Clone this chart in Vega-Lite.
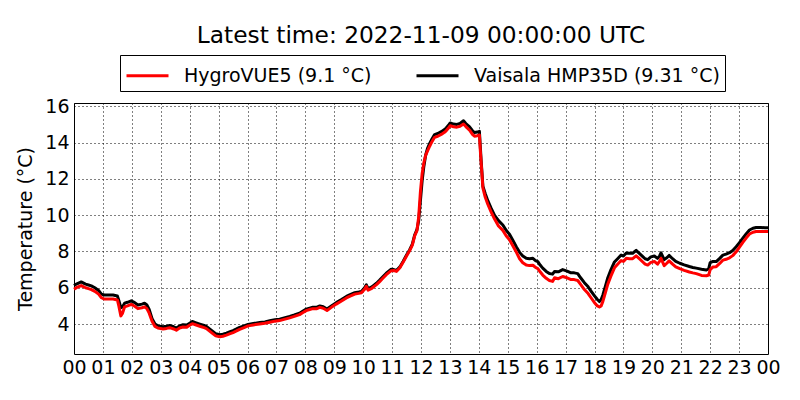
{
  "$schema": "https://vega.github.io/schema/vega-lite/v6.json",
  "width": 694,
  "height": 251,
  "autosize": "none",
  "padding": {"left": 74, "top": 103, "right": 32, "bottom": 46},
  "background": "white",
  "config": {
    "font": "DejaVu Sans",
    "view": {"stroke": "black", "strokeWidth": 1}
  },
  "title": {
    "text": "Latest time: 2022-11-09 00:00:00 UTC",
    "fontSize": 23.3,
    "fontWeight": "normal",
    "color": "black",
    "anchor": "middle",
    "frame": "group",
    "offset": 6
  },
  "data": {
    "values": [
      {"hour": 0.0, "sensor": "Vaisala HMP35D", "temp": 6.12},
      {"hour": 0.1, "sensor": "Vaisala HMP35D", "temp": 6.22},
      {"hour": 0.25, "sensor": "Vaisala HMP35D", "temp": 6.32},
      {"hour": 0.4, "sensor": "Vaisala HMP35D", "temp": 6.2},
      {"hour": 0.5, "sensor": "Vaisala HMP35D", "temp": 6.15},
      {"hour": 0.6, "sensor": "Vaisala HMP35D", "temp": 6.1},
      {"hour": 0.72, "sensor": "Vaisala HMP35D", "temp": 6.0},
      {"hour": 0.85, "sensor": "Vaisala HMP35D", "temp": 5.85},
      {"hour": 0.95, "sensor": "Vaisala HMP35D", "temp": 5.65},
      {"hour": 1.05, "sensor": "Vaisala HMP35D", "temp": 5.6},
      {"hour": 1.2, "sensor": "Vaisala HMP35D", "temp": 5.6},
      {"hour": 1.35, "sensor": "Vaisala HMP35D", "temp": 5.6},
      {"hour": 1.5, "sensor": "Vaisala HMP35D", "temp": 5.55},
      {"hour": 1.55, "sensor": "Vaisala HMP35D", "temp": 5.3},
      {"hour": 1.62, "sensor": "Vaisala HMP35D", "temp": 4.9},
      {"hour": 1.68, "sensor": "Vaisala HMP35D", "temp": 4.95},
      {"hour": 1.75, "sensor": "Vaisala HMP35D", "temp": 5.15},
      {"hour": 1.85, "sensor": "Vaisala HMP35D", "temp": 5.2},
      {"hour": 1.98, "sensor": "Vaisala HMP35D", "temp": 5.28},
      {"hour": 2.1, "sensor": "Vaisala HMP35D", "temp": 5.18},
      {"hour": 2.21, "sensor": "Vaisala HMP35D", "temp": 5.05},
      {"hour": 2.35, "sensor": "Vaisala HMP35D", "temp": 5.1},
      {"hour": 2.44, "sensor": "Vaisala HMP35D", "temp": 5.15},
      {"hour": 2.52, "sensor": "Vaisala HMP35D", "temp": 5.05},
      {"hour": 2.6, "sensor": "Vaisala HMP35D", "temp": 4.8},
      {"hour": 2.7, "sensor": "Vaisala HMP35D", "temp": 4.3},
      {"hour": 2.8, "sensor": "Vaisala HMP35D", "temp": 4.0},
      {"hour": 2.9, "sensor": "Vaisala HMP35D", "temp": 3.9},
      {"hour": 3.08, "sensor": "Vaisala HMP35D", "temp": 3.85},
      {"hour": 3.2, "sensor": "Vaisala HMP35D", "temp": 3.88},
      {"hour": 3.31, "sensor": "Vaisala HMP35D", "temp": 3.92},
      {"hour": 3.45, "sensor": "Vaisala HMP35D", "temp": 3.85},
      {"hour": 3.54, "sensor": "Vaisala HMP35D", "temp": 3.78},
      {"hour": 3.65, "sensor": "Vaisala HMP35D", "temp": 3.9},
      {"hour": 3.77, "sensor": "Vaisala HMP35D", "temp": 3.96},
      {"hour": 3.9, "sensor": "Vaisala HMP35D", "temp": 3.95},
      {"hour": 4.0, "sensor": "Vaisala HMP35D", "temp": 4.05},
      {"hour": 4.09, "sensor": "Vaisala HMP35D", "temp": 4.14},
      {"hour": 4.2, "sensor": "Vaisala HMP35D", "temp": 4.08},
      {"hour": 4.35, "sensor": "Vaisala HMP35D", "temp": 4.0},
      {"hour": 4.5, "sensor": "Vaisala HMP35D", "temp": 3.92},
      {"hour": 4.58, "sensor": "Vaisala HMP35D", "temp": 3.87},
      {"hour": 4.7, "sensor": "Vaisala HMP35D", "temp": 3.72},
      {"hour": 4.81, "sensor": "Vaisala HMP35D", "temp": 3.58},
      {"hour": 4.9, "sensor": "Vaisala HMP35D", "temp": 3.47},
      {"hour": 5.04, "sensor": "Vaisala HMP35D", "temp": 3.41},
      {"hour": 5.15, "sensor": "Vaisala HMP35D", "temp": 3.44},
      {"hour": 5.27, "sensor": "Vaisala HMP35D", "temp": 3.5},
      {"hour": 5.4, "sensor": "Vaisala HMP35D", "temp": 3.58},
      {"hour": 5.5, "sensor": "Vaisala HMP35D", "temp": 3.64},
      {"hour": 5.62, "sensor": "Vaisala HMP35D", "temp": 3.73},
      {"hour": 5.73, "sensor": "Vaisala HMP35D", "temp": 3.82},
      {"hour": 5.88, "sensor": "Vaisala HMP35D", "temp": 3.9},
      {"hour": 6.02, "sensor": "Vaisala HMP35D", "temp": 3.98},
      {"hour": 6.2, "sensor": "Vaisala HMP35D", "temp": 4.03},
      {"hour": 6.42, "sensor": "Vaisala HMP35D", "temp": 4.08},
      {"hour": 6.6, "sensor": "Vaisala HMP35D", "temp": 4.12},
      {"hour": 6.77, "sensor": "Vaisala HMP35D", "temp": 4.18},
      {"hour": 6.95, "sensor": "Vaisala HMP35D", "temp": 4.24},
      {"hour": 7.11, "sensor": "Vaisala HMP35D", "temp": 4.27},
      {"hour": 7.3, "sensor": "Vaisala HMP35D", "temp": 4.35},
      {"hour": 7.46, "sensor": "Vaisala HMP35D", "temp": 4.42},
      {"hour": 7.62, "sensor": "Vaisala HMP35D", "temp": 4.5},
      {"hour": 7.8, "sensor": "Vaisala HMP35D", "temp": 4.6},
      {"hour": 7.92, "sensor": "Vaisala HMP35D", "temp": 4.72},
      {"hour": 8.03, "sensor": "Vaisala HMP35D", "temp": 4.82},
      {"hour": 8.15, "sensor": "Vaisala HMP35D", "temp": 4.88},
      {"hour": 8.26, "sensor": "Vaisala HMP35D", "temp": 4.93},
      {"hour": 8.38, "sensor": "Vaisala HMP35D", "temp": 4.92},
      {"hour": 8.5, "sensor": "Vaisala HMP35D", "temp": 5.0},
      {"hour": 8.62, "sensor": "Vaisala HMP35D", "temp": 4.95},
      {"hour": 8.75, "sensor": "Vaisala HMP35D", "temp": 4.83},
      {"hour": 8.9, "sensor": "Vaisala HMP35D", "temp": 5.0},
      {"hour": 9.07, "sensor": "Vaisala HMP35D", "temp": 5.18},
      {"hour": 9.25, "sensor": "Vaisala HMP35D", "temp": 5.35},
      {"hour": 9.42, "sensor": "Vaisala HMP35D", "temp": 5.52},
      {"hour": 9.55, "sensor": "Vaisala HMP35D", "temp": 5.62},
      {"hour": 9.71, "sensor": "Vaisala HMP35D", "temp": 5.73},
      {"hour": 9.85, "sensor": "Vaisala HMP35D", "temp": 5.77},
      {"hour": 9.94, "sensor": "Vaisala HMP35D", "temp": 5.8},
      {"hour": 10.05, "sensor": "Vaisala HMP35D", "temp": 6.0},
      {"hour": 10.11, "sensor": "Vaisala HMP35D", "temp": 6.16},
      {"hour": 10.17, "sensor": "Vaisala HMP35D", "temp": 5.95},
      {"hour": 10.3, "sensor": "Vaisala HMP35D", "temp": 6.05},
      {"hour": 10.46, "sensor": "Vaisala HMP35D", "temp": 6.25},
      {"hour": 10.57, "sensor": "Vaisala HMP35D", "temp": 6.42},
      {"hour": 10.68, "sensor": "Vaisala HMP35D", "temp": 6.6},
      {"hour": 10.8, "sensor": "Vaisala HMP35D", "temp": 6.8},
      {"hour": 10.97, "sensor": "Vaisala HMP35D", "temp": 7.02},
      {"hour": 11.06, "sensor": "Vaisala HMP35D", "temp": 7.0},
      {"hour": 11.15, "sensor": "Vaisala HMP35D", "temp": 6.95},
      {"hour": 11.27, "sensor": "Vaisala HMP35D", "temp": 7.15},
      {"hour": 11.38, "sensor": "Vaisala HMP35D", "temp": 7.45},
      {"hour": 11.5, "sensor": "Vaisala HMP35D", "temp": 7.8},
      {"hour": 11.61, "sensor": "Vaisala HMP35D", "temp": 8.1},
      {"hour": 11.7, "sensor": "Vaisala HMP35D", "temp": 8.4},
      {"hour": 11.78, "sensor": "Vaisala HMP35D", "temp": 8.9},
      {"hour": 11.86, "sensor": "Vaisala HMP35D", "temp": 9.2},
      {"hour": 11.92, "sensor": "Vaisala HMP35D", "temp": 9.7},
      {"hour": 11.98, "sensor": "Vaisala HMP35D", "temp": 10.8},
      {"hour": 12.04, "sensor": "Vaisala HMP35D", "temp": 11.9},
      {"hour": 12.1, "sensor": "Vaisala HMP35D", "temp": 12.7},
      {"hour": 12.16, "sensor": "Vaisala HMP35D", "temp": 13.3},
      {"hour": 12.23, "sensor": "Vaisala HMP35D", "temp": 13.7},
      {"hour": 12.3, "sensor": "Vaisala HMP35D", "temp": 13.95},
      {"hour": 12.38, "sensor": "Vaisala HMP35D", "temp": 14.2},
      {"hour": 12.47, "sensor": "Vaisala HMP35D", "temp": 14.44},
      {"hour": 12.58, "sensor": "Vaisala HMP35D", "temp": 14.5},
      {"hour": 12.7, "sensor": "Vaisala HMP35D", "temp": 14.6},
      {"hour": 12.8, "sensor": "Vaisala HMP35D", "temp": 14.7},
      {"hour": 12.87, "sensor": "Vaisala HMP35D", "temp": 14.8},
      {"hour": 12.95, "sensor": "Vaisala HMP35D", "temp": 14.95},
      {"hour": 13.01, "sensor": "Vaisala HMP35D", "temp": 15.08},
      {"hour": 13.12, "sensor": "Vaisala HMP35D", "temp": 15.02},
      {"hour": 13.24, "sensor": "Vaisala HMP35D", "temp": 15.0},
      {"hour": 13.35, "sensor": "Vaisala HMP35D", "temp": 15.05},
      {"hour": 13.47, "sensor": "Vaisala HMP35D", "temp": 15.2},
      {"hour": 13.55, "sensor": "Vaisala HMP35D", "temp": 15.05},
      {"hour": 13.68, "sensor": "Vaisala HMP35D", "temp": 14.86},
      {"hour": 13.78, "sensor": "Vaisala HMP35D", "temp": 14.65},
      {"hour": 13.85, "sensor": "Vaisala HMP35D", "temp": 14.55},
      {"hour": 13.95, "sensor": "Vaisala HMP35D", "temp": 14.58},
      {"hour": 14.02, "sensor": "Vaisala HMP35D", "temp": 14.62},
      {"hour": 14.05, "sensor": "Vaisala HMP35D", "temp": 13.8},
      {"hour": 14.08, "sensor": "Vaisala HMP35D", "temp": 13.0},
      {"hour": 14.14, "sensor": "Vaisala HMP35D", "temp": 11.6},
      {"hour": 14.22, "sensor": "Vaisala HMP35D", "temp": 11.2},
      {"hour": 14.31, "sensor": "Vaisala HMP35D", "temp": 10.8},
      {"hour": 14.42, "sensor": "Vaisala HMP35D", "temp": 10.4},
      {"hour": 14.54, "sensor": "Vaisala HMP35D", "temp": 10.0},
      {"hour": 14.68, "sensor": "Vaisala HMP35D", "temp": 9.7},
      {"hour": 14.83, "sensor": "Vaisala HMP35D", "temp": 9.46},
      {"hour": 14.95, "sensor": "Vaisala HMP35D", "temp": 9.15},
      {"hour": 15.06, "sensor": "Vaisala HMP35D", "temp": 8.95},
      {"hour": 15.18, "sensor": "Vaisala HMP35D", "temp": 8.6},
      {"hour": 15.3, "sensor": "Vaisala HMP35D", "temp": 8.25},
      {"hour": 15.41, "sensor": "Vaisala HMP35D", "temp": 7.95},
      {"hour": 15.52, "sensor": "Vaisala HMP35D", "temp": 7.75},
      {"hour": 15.64, "sensor": "Vaisala HMP35D", "temp": 7.62},
      {"hour": 15.75, "sensor": "Vaisala HMP35D", "temp": 7.6},
      {"hour": 15.87, "sensor": "Vaisala HMP35D", "temp": 7.62},
      {"hour": 15.96, "sensor": "Vaisala HMP35D", "temp": 7.5},
      {"hour": 16.04, "sensor": "Vaisala HMP35D", "temp": 7.44},
      {"hour": 16.12, "sensor": "Vaisala HMP35D", "temp": 7.25},
      {"hour": 16.21, "sensor": "Vaisala HMP35D", "temp": 7.08},
      {"hour": 16.33, "sensor": "Vaisala HMP35D", "temp": 6.9},
      {"hour": 16.44, "sensor": "Vaisala HMP35D", "temp": 6.78},
      {"hour": 16.55, "sensor": "Vaisala HMP35D", "temp": 6.75},
      {"hour": 16.62, "sensor": "Vaisala HMP35D", "temp": 6.9},
      {"hour": 16.75, "sensor": "Vaisala HMP35D", "temp": 6.88},
      {"hour": 16.9, "sensor": "Vaisala HMP35D", "temp": 7.0},
      {"hour": 17.05, "sensor": "Vaisala HMP35D", "temp": 6.92},
      {"hour": 17.19, "sensor": "Vaisala HMP35D", "temp": 6.82},
      {"hour": 17.3, "sensor": "Vaisala HMP35D", "temp": 6.82},
      {"hour": 17.42, "sensor": "Vaisala HMP35D", "temp": 6.78},
      {"hour": 17.52, "sensor": "Vaisala HMP35D", "temp": 6.55},
      {"hour": 17.65, "sensor": "Vaisala HMP35D", "temp": 6.28},
      {"hour": 17.78, "sensor": "Vaisala HMP35D", "temp": 6.05},
      {"hour": 17.88, "sensor": "Vaisala HMP35D", "temp": 5.82},
      {"hour": 18.0, "sensor": "Vaisala HMP35D", "temp": 5.55},
      {"hour": 18.1, "sensor": "Vaisala HMP35D", "temp": 5.35},
      {"hour": 18.17, "sensor": "Vaisala HMP35D", "temp": 5.24},
      {"hour": 18.23, "sensor": "Vaisala HMP35D", "temp": 5.35},
      {"hour": 18.29, "sensor": "Vaisala HMP35D", "temp": 5.6},
      {"hour": 18.38, "sensor": "Vaisala HMP35D", "temp": 6.1},
      {"hour": 18.46, "sensor": "Vaisala HMP35D", "temp": 6.55},
      {"hour": 18.57, "sensor": "Vaisala HMP35D", "temp": 7.0},
      {"hour": 18.69, "sensor": "Vaisala HMP35D", "temp": 7.42},
      {"hour": 18.8, "sensor": "Vaisala HMP35D", "temp": 7.6},
      {"hour": 18.92, "sensor": "Vaisala HMP35D", "temp": 7.8},
      {"hour": 19.0, "sensor": "Vaisala HMP35D", "temp": 7.75},
      {"hour": 19.1, "sensor": "Vaisala HMP35D", "temp": 7.92},
      {"hour": 19.21, "sensor": "Vaisala HMP35D", "temp": 7.9},
      {"hour": 19.32, "sensor": "Vaisala HMP35D", "temp": 7.9},
      {"hour": 19.44, "sensor": "Vaisala HMP35D", "temp": 8.06},
      {"hour": 19.55, "sensor": "Vaisala HMP35D", "temp": 7.9},
      {"hour": 19.67, "sensor": "Vaisala HMP35D", "temp": 7.72},
      {"hour": 19.75, "sensor": "Vaisala HMP35D", "temp": 7.6},
      {"hour": 19.84, "sensor": "Vaisala HMP35D", "temp": 7.55},
      {"hour": 19.95, "sensor": "Vaisala HMP35D", "temp": 7.7},
      {"hour": 20.07, "sensor": "Vaisala HMP35D", "temp": 7.75},
      {"hour": 20.18, "sensor": "Vaisala HMP35D", "temp": 7.62},
      {"hour": 20.25, "sensor": "Vaisala HMP35D", "temp": 7.75},
      {"hour": 20.3, "sensor": "Vaisala HMP35D", "temp": 7.92},
      {"hour": 20.41, "sensor": "Vaisala HMP35D", "temp": 7.55},
      {"hour": 20.5, "sensor": "Vaisala HMP35D", "temp": 7.65},
      {"hour": 20.58, "sensor": "Vaisala HMP35D", "temp": 7.78},
      {"hour": 20.7, "sensor": "Vaisala HMP35D", "temp": 7.6},
      {"hour": 20.81, "sensor": "Vaisala HMP35D", "temp": 7.45},
      {"hour": 20.95, "sensor": "Vaisala HMP35D", "temp": 7.35},
      {"hour": 21.1, "sensor": "Vaisala HMP35D", "temp": 7.26},
      {"hour": 21.28, "sensor": "Vaisala HMP35D", "temp": 7.17},
      {"hour": 21.4, "sensor": "Vaisala HMP35D", "temp": 7.12},
      {"hour": 21.52, "sensor": "Vaisala HMP35D", "temp": 7.08},
      {"hour": 21.7, "sensor": "Vaisala HMP35D", "temp": 7.02},
      {"hour": 21.87, "sensor": "Vaisala HMP35D", "temp": 6.98},
      {"hour": 21.95, "sensor": "Vaisala HMP35D", "temp": 7.05},
      {"hour": 22.0, "sensor": "Vaisala HMP35D", "temp": 7.38},
      {"hour": 22.1, "sensor": "Vaisala HMP35D", "temp": 7.45},
      {"hour": 22.21, "sensor": "Vaisala HMP35D", "temp": 7.44},
      {"hour": 22.33, "sensor": "Vaisala HMP35D", "temp": 7.62},
      {"hour": 22.44, "sensor": "Vaisala HMP35D", "temp": 7.8},
      {"hour": 22.55, "sensor": "Vaisala HMP35D", "temp": 7.85},
      {"hour": 22.67, "sensor": "Vaisala HMP35D", "temp": 7.93},
      {"hour": 22.78, "sensor": "Vaisala HMP35D", "temp": 8.05},
      {"hour": 22.9, "sensor": "Vaisala HMP35D", "temp": 8.26},
      {"hour": 23.02, "sensor": "Vaisala HMP35D", "temp": 8.5},
      {"hour": 23.13, "sensor": "Vaisala HMP35D", "temp": 8.73},
      {"hour": 23.25, "sensor": "Vaisala HMP35D", "temp": 8.98},
      {"hour": 23.36, "sensor": "Vaisala HMP35D", "temp": 9.18},
      {"hour": 23.48, "sensor": "Vaisala HMP35D", "temp": 9.28},
      {"hour": 23.59, "sensor": "Vaisala HMP35D", "temp": 9.32},
      {"hour": 23.75, "sensor": "Vaisala HMP35D", "temp": 9.32},
      {"hour": 23.9, "sensor": "Vaisala HMP35D", "temp": 9.31},
      {"hour": 24.0, "sensor": "Vaisala HMP35D", "temp": 9.31},
      {"hour": 0.0, "sensor": "HygroVUE5", "temp": 5.92},
      {"hour": 0.1, "sensor": "HygroVUE5", "temp": 6.02},
      {"hour": 0.25, "sensor": "HygroVUE5", "temp": 6.12},
      {"hour": 0.4, "sensor": "HygroVUE5", "temp": 6.0},
      {"hour": 0.5, "sensor": "HygroVUE5", "temp": 5.95},
      {"hour": 0.6, "sensor": "HygroVUE5", "temp": 5.9},
      {"hour": 0.72, "sensor": "HygroVUE5", "temp": 5.8},
      {"hour": 0.85, "sensor": "HygroVUE5", "temp": 5.65},
      {"hour": 0.95, "sensor": "HygroVUE5", "temp": 5.45},
      {"hour": 1.05, "sensor": "HygroVUE5", "temp": 5.38},
      {"hour": 1.2, "sensor": "HygroVUE5", "temp": 5.38},
      {"hour": 1.35, "sensor": "HygroVUE5", "temp": 5.38},
      {"hour": 1.5, "sensor": "HygroVUE5", "temp": 5.33},
      {"hour": 1.55, "sensor": "HygroVUE5", "temp": 5.0},
      {"hour": 1.62, "sensor": "HygroVUE5", "temp": 4.45},
      {"hour": 1.68, "sensor": "HygroVUE5", "temp": 4.6},
      {"hour": 1.75, "sensor": "HygroVUE5", "temp": 4.95},
      {"hour": 1.85, "sensor": "HygroVUE5", "temp": 5.0},
      {"hour": 1.98, "sensor": "HygroVUE5", "temp": 5.08},
      {"hour": 2.1, "sensor": "HygroVUE5", "temp": 4.98},
      {"hour": 2.21, "sensor": "HygroVUE5", "temp": 4.85},
      {"hour": 2.35, "sensor": "HygroVUE5", "temp": 4.9},
      {"hour": 2.44, "sensor": "HygroVUE5", "temp": 4.95},
      {"hour": 2.52, "sensor": "HygroVUE5", "temp": 4.85},
      {"hour": 2.6, "sensor": "HygroVUE5", "temp": 4.6},
      {"hour": 2.7, "sensor": "HygroVUE5", "temp": 4.15},
      {"hour": 2.8, "sensor": "HygroVUE5", "temp": 3.87},
      {"hour": 2.9, "sensor": "HygroVUE5", "temp": 3.78},
      {"hour": 3.08, "sensor": "HygroVUE5", "temp": 3.73},
      {"hour": 3.2, "sensor": "HygroVUE5", "temp": 3.76},
      {"hour": 3.31, "sensor": "HygroVUE5", "temp": 3.8},
      {"hour": 3.45, "sensor": "HygroVUE5", "temp": 3.73},
      {"hour": 3.54, "sensor": "HygroVUE5", "temp": 3.66},
      {"hour": 3.65, "sensor": "HygroVUE5", "temp": 3.78},
      {"hour": 3.77, "sensor": "HygroVUE5", "temp": 3.84},
      {"hour": 3.9, "sensor": "HygroVUE5", "temp": 3.83},
      {"hour": 4.0, "sensor": "HygroVUE5", "temp": 3.93},
      {"hour": 4.09, "sensor": "HygroVUE5", "temp": 4.02},
      {"hour": 4.2, "sensor": "HygroVUE5", "temp": 3.96},
      {"hour": 4.35, "sensor": "HygroVUE5", "temp": 3.88},
      {"hour": 4.5, "sensor": "HygroVUE5", "temp": 3.8},
      {"hour": 4.58, "sensor": "HygroVUE5", "temp": 3.75},
      {"hour": 4.7, "sensor": "HygroVUE5", "temp": 3.6},
      {"hour": 4.81, "sensor": "HygroVUE5", "temp": 3.46},
      {"hour": 4.9, "sensor": "HygroVUE5", "temp": 3.35},
      {"hour": 5.04, "sensor": "HygroVUE5", "temp": 3.3},
      {"hour": 5.15, "sensor": "HygroVUE5", "temp": 3.33},
      {"hour": 5.27, "sensor": "HygroVUE5", "temp": 3.39},
      {"hour": 5.4, "sensor": "HygroVUE5", "temp": 3.47},
      {"hour": 5.5, "sensor": "HygroVUE5", "temp": 3.53},
      {"hour": 5.62, "sensor": "HygroVUE5", "temp": 3.62},
      {"hour": 5.73, "sensor": "HygroVUE5", "temp": 3.71},
      {"hour": 5.88, "sensor": "HygroVUE5", "temp": 3.8},
      {"hour": 6.02, "sensor": "HygroVUE5", "temp": 3.9},
      {"hour": 6.2, "sensor": "HygroVUE5", "temp": 3.95},
      {"hour": 6.42, "sensor": "HygroVUE5", "temp": 4.0},
      {"hour": 6.6, "sensor": "HygroVUE5", "temp": 4.04},
      {"hour": 6.77, "sensor": "HygroVUE5", "temp": 4.1},
      {"hour": 6.95, "sensor": "HygroVUE5", "temp": 4.16},
      {"hour": 7.11, "sensor": "HygroVUE5", "temp": 4.19},
      {"hour": 7.3, "sensor": "HygroVUE5", "temp": 4.27},
      {"hour": 7.46, "sensor": "HygroVUE5", "temp": 4.34},
      {"hour": 7.62, "sensor": "HygroVUE5", "temp": 4.42},
      {"hour": 7.8, "sensor": "HygroVUE5", "temp": 4.52},
      {"hour": 7.92, "sensor": "HygroVUE5", "temp": 4.64},
      {"hour": 8.03, "sensor": "HygroVUE5", "temp": 4.74},
      {"hour": 8.15, "sensor": "HygroVUE5", "temp": 4.8},
      {"hour": 8.26, "sensor": "HygroVUE5", "temp": 4.85},
      {"hour": 8.38, "sensor": "HygroVUE5", "temp": 4.84},
      {"hour": 8.5, "sensor": "HygroVUE5", "temp": 4.92},
      {"hour": 8.62, "sensor": "HygroVUE5", "temp": 4.87},
      {"hour": 8.75, "sensor": "HygroVUE5", "temp": 4.75},
      {"hour": 8.9, "sensor": "HygroVUE5", "temp": 4.92},
      {"hour": 9.07, "sensor": "HygroVUE5", "temp": 5.1},
      {"hour": 9.25, "sensor": "HygroVUE5", "temp": 5.27},
      {"hour": 9.42, "sensor": "HygroVUE5", "temp": 5.44},
      {"hour": 9.55, "sensor": "HygroVUE5", "temp": 5.54},
      {"hour": 9.71, "sensor": "HygroVUE5", "temp": 5.65},
      {"hour": 9.85, "sensor": "HygroVUE5", "temp": 5.69},
      {"hour": 9.94, "sensor": "HygroVUE5", "temp": 5.72},
      {"hour": 10.05, "sensor": "HygroVUE5", "temp": 5.92},
      {"hour": 10.11, "sensor": "HygroVUE5", "temp": 6.08},
      {"hour": 10.17, "sensor": "HygroVUE5", "temp": 5.87},
      {"hour": 10.3, "sensor": "HygroVUE5", "temp": 5.97},
      {"hour": 10.46, "sensor": "HygroVUE5", "temp": 6.17},
      {"hour": 10.57, "sensor": "HygroVUE5", "temp": 6.34},
      {"hour": 10.68, "sensor": "HygroVUE5", "temp": 6.52},
      {"hour": 10.8, "sensor": "HygroVUE5", "temp": 6.72},
      {"hour": 10.97, "sensor": "HygroVUE5", "temp": 6.94},
      {"hour": 11.06, "sensor": "HygroVUE5", "temp": 6.95},
      {"hour": 11.15, "sensor": "HygroVUE5", "temp": 6.9},
      {"hour": 11.27, "sensor": "HygroVUE5", "temp": 7.1},
      {"hour": 11.38, "sensor": "HygroVUE5", "temp": 7.4},
      {"hour": 11.5, "sensor": "HygroVUE5", "temp": 7.75},
      {"hour": 11.61, "sensor": "HygroVUE5", "temp": 8.05},
      {"hour": 11.7, "sensor": "HygroVUE5", "temp": 8.35},
      {"hour": 11.78, "sensor": "HygroVUE5", "temp": 8.85},
      {"hour": 11.86, "sensor": "HygroVUE5", "temp": 9.15},
      {"hour": 11.92, "sensor": "HygroVUE5", "temp": 9.9},
      {"hour": 11.98, "sensor": "HygroVUE5", "temp": 11.3},
      {"hour": 12.04, "sensor": "HygroVUE5", "temp": 12.3},
      {"hour": 12.1, "sensor": "HygroVUE5", "temp": 12.9},
      {"hour": 12.16, "sensor": "HygroVUE5", "temp": 13.3},
      {"hour": 12.23, "sensor": "HygroVUE5", "temp": 13.55},
      {"hour": 12.3, "sensor": "HygroVUE5", "temp": 13.8},
      {"hour": 12.38, "sensor": "HygroVUE5", "temp": 14.05},
      {"hour": 12.47, "sensor": "HygroVUE5", "temp": 14.29},
      {"hour": 12.58, "sensor": "HygroVUE5", "temp": 14.35},
      {"hour": 12.7, "sensor": "HygroVUE5", "temp": 14.45},
      {"hour": 12.8, "sensor": "HygroVUE5", "temp": 14.55},
      {"hour": 12.87, "sensor": "HygroVUE5", "temp": 14.65},
      {"hour": 12.95, "sensor": "HygroVUE5", "temp": 14.8},
      {"hour": 13.01, "sensor": "HygroVUE5", "temp": 14.93},
      {"hour": 13.12, "sensor": "HygroVUE5", "temp": 14.87},
      {"hour": 13.24, "sensor": "HygroVUE5", "temp": 14.85},
      {"hour": 13.35, "sensor": "HygroVUE5", "temp": 14.9},
      {"hour": 13.47, "sensor": "HygroVUE5", "temp": 15.02},
      {"hour": 13.55, "sensor": "HygroVUE5", "temp": 14.88},
      {"hour": 13.68, "sensor": "HygroVUE5", "temp": 14.68},
      {"hour": 13.78, "sensor": "HygroVUE5", "temp": 14.45},
      {"hour": 13.85, "sensor": "HygroVUE5", "temp": 14.35},
      {"hour": 13.95, "sensor": "HygroVUE5", "temp": 14.38},
      {"hour": 14.02, "sensor": "HygroVUE5", "temp": 14.42},
      {"hour": 14.05, "sensor": "HygroVUE5", "temp": 13.6},
      {"hour": 14.08, "sensor": "HygroVUE5", "temp": 12.9},
      {"hour": 14.14, "sensor": "HygroVUE5", "temp": 11.5},
      {"hour": 14.22, "sensor": "HygroVUE5", "temp": 11.0},
      {"hour": 14.31, "sensor": "HygroVUE5", "temp": 10.6},
      {"hour": 14.42, "sensor": "HygroVUE5", "temp": 10.2},
      {"hour": 14.54, "sensor": "HygroVUE5", "temp": 9.8},
      {"hour": 14.68, "sensor": "HygroVUE5", "temp": 9.4},
      {"hour": 14.83, "sensor": "HygroVUE5", "temp": 9.16},
      {"hour": 14.95, "sensor": "HygroVUE5", "temp": 8.85},
      {"hour": 15.06, "sensor": "HygroVUE5", "temp": 8.65},
      {"hour": 15.18, "sensor": "HygroVUE5", "temp": 8.3},
      {"hour": 15.3, "sensor": "HygroVUE5", "temp": 7.95},
      {"hour": 15.41, "sensor": "HygroVUE5", "temp": 7.6},
      {"hour": 15.52, "sensor": "HygroVUE5", "temp": 7.38},
      {"hour": 15.64, "sensor": "HygroVUE5", "temp": 7.25},
      {"hour": 15.75, "sensor": "HygroVUE5", "temp": 7.22},
      {"hour": 15.87, "sensor": "HygroVUE5", "temp": 7.24},
      {"hour": 15.96, "sensor": "HygroVUE5", "temp": 7.12},
      {"hour": 16.04, "sensor": "HygroVUE5", "temp": 7.06},
      {"hour": 16.12, "sensor": "HygroVUE5", "temp": 6.88},
      {"hour": 16.21, "sensor": "HygroVUE5", "temp": 6.7},
      {"hour": 16.33, "sensor": "HygroVUE5", "temp": 6.52},
      {"hour": 16.44, "sensor": "HygroVUE5", "temp": 6.4},
      {"hour": 16.55, "sensor": "HygroVUE5", "temp": 6.35},
      {"hour": 16.62, "sensor": "HygroVUE5", "temp": 6.55},
      {"hour": 16.75, "sensor": "HygroVUE5", "temp": 6.5},
      {"hour": 16.9, "sensor": "HygroVUE5", "temp": 6.62},
      {"hour": 17.05, "sensor": "HygroVUE5", "temp": 6.55},
      {"hour": 17.19, "sensor": "HygroVUE5", "temp": 6.45},
      {"hour": 17.3, "sensor": "HygroVUE5", "temp": 6.45},
      {"hour": 17.42, "sensor": "HygroVUE5", "temp": 6.4},
      {"hour": 17.52, "sensor": "HygroVUE5", "temp": 6.18},
      {"hour": 17.65, "sensor": "HygroVUE5", "temp": 5.9},
      {"hour": 17.78, "sensor": "HygroVUE5", "temp": 5.68},
      {"hour": 17.88, "sensor": "HygroVUE5", "temp": 5.45},
      {"hour": 18.0, "sensor": "HygroVUE5", "temp": 5.18},
      {"hour": 18.1, "sensor": "HygroVUE5", "temp": 5.0},
      {"hour": 18.17, "sensor": "HygroVUE5", "temp": 4.94},
      {"hour": 18.23, "sensor": "HygroVUE5", "temp": 5.0},
      {"hour": 18.29, "sensor": "HygroVUE5", "temp": 5.25},
      {"hour": 18.38, "sensor": "HygroVUE5", "temp": 5.75},
      {"hour": 18.46, "sensor": "HygroVUE5", "temp": 6.2},
      {"hour": 18.57, "sensor": "HygroVUE5", "temp": 6.65},
      {"hour": 18.69, "sensor": "HygroVUE5", "temp": 7.1},
      {"hour": 18.8, "sensor": "HygroVUE5", "temp": 7.3},
      {"hour": 18.92, "sensor": "HygroVUE5", "temp": 7.5},
      {"hour": 19.0, "sensor": "HygroVUE5", "temp": 7.45},
      {"hour": 19.1, "sensor": "HygroVUE5", "temp": 7.62},
      {"hour": 19.21, "sensor": "HygroVUE5", "temp": 7.6},
      {"hour": 19.32, "sensor": "HygroVUE5", "temp": 7.6},
      {"hour": 19.44, "sensor": "HygroVUE5", "temp": 7.76},
      {"hour": 19.55, "sensor": "HygroVUE5", "temp": 7.6},
      {"hour": 19.67, "sensor": "HygroVUE5", "temp": 7.42},
      {"hour": 19.75, "sensor": "HygroVUE5", "temp": 7.3},
      {"hour": 19.84, "sensor": "HygroVUE5", "temp": 7.25},
      {"hour": 19.95, "sensor": "HygroVUE5", "temp": 7.4},
      {"hour": 20.07, "sensor": "HygroVUE5", "temp": 7.45},
      {"hour": 20.18, "sensor": "HygroVUE5", "temp": 7.3},
      {"hour": 20.25, "sensor": "HygroVUE5", "temp": 7.45},
      {"hour": 20.3, "sensor": "HygroVUE5", "temp": 7.62},
      {"hour": 20.41, "sensor": "HygroVUE5", "temp": 7.22},
      {"hour": 20.5, "sensor": "HygroVUE5", "temp": 7.35},
      {"hour": 20.58, "sensor": "HygroVUE5", "temp": 7.48},
      {"hour": 20.7, "sensor": "HygroVUE5", "temp": 7.3},
      {"hour": 20.81, "sensor": "HygroVUE5", "temp": 7.15},
      {"hour": 20.95, "sensor": "HygroVUE5", "temp": 7.05},
      {"hour": 21.1, "sensor": "HygroVUE5", "temp": 6.96},
      {"hour": 21.28, "sensor": "HygroVUE5", "temp": 6.87},
      {"hour": 21.4, "sensor": "HygroVUE5", "temp": 6.82},
      {"hour": 21.52, "sensor": "HygroVUE5", "temp": 6.78},
      {"hour": 21.7, "sensor": "HygroVUE5", "temp": 6.68},
      {"hour": 21.87, "sensor": "HygroVUE5", "temp": 6.66},
      {"hour": 21.95, "sensor": "HygroVUE5", "temp": 6.7},
      {"hour": 22.0, "sensor": "HygroVUE5", "temp": 7.0},
      {"hour": 22.1, "sensor": "HygroVUE5", "temp": 7.15},
      {"hour": 22.21, "sensor": "HygroVUE5", "temp": 7.16},
      {"hour": 22.33, "sensor": "HygroVUE5", "temp": 7.34},
      {"hour": 22.44, "sensor": "HygroVUE5", "temp": 7.52},
      {"hour": 22.55, "sensor": "HygroVUE5", "temp": 7.57},
      {"hour": 22.67, "sensor": "HygroVUE5", "temp": 7.65},
      {"hour": 22.78, "sensor": "HygroVUE5", "temp": 7.77},
      {"hour": 22.9, "sensor": "HygroVUE5", "temp": 7.98},
      {"hour": 23.02, "sensor": "HygroVUE5", "temp": 8.25},
      {"hour": 23.13, "sensor": "HygroVUE5", "temp": 8.5},
      {"hour": 23.25, "sensor": "HygroVUE5", "temp": 8.75},
      {"hour": 23.36, "sensor": "HygroVUE5", "temp": 8.96},
      {"hour": 23.48, "sensor": "HygroVUE5", "temp": 9.06},
      {"hour": 23.59, "sensor": "HygroVUE5", "temp": 9.1},
      {"hour": 23.75, "sensor": "HygroVUE5", "temp": 9.1},
      {"hour": 23.9, "sensor": "HygroVUE5", "temp": 9.1},
      {"hour": 24.0, "sensor": "HygroVUE5", "temp": 9.1}
    ]
  },
  "mark": {"type": "line", "strokeWidth": 3, "strokeJoin": "round"},
  "encoding": {
    "x": {
      "field": "hour",
      "type": "quantitative",
      "scale": {"domain": [0, 24], "nice": false, "zero": false},
      "axis": {
        "title": null,
        "values": [0, 1, 2, 3, 4, 5, 6, 7, 8, 9, 10, 11, 12, 13, 14, 15, 16, 17, 18, 19, 20, 21, 22, 23, 24],
        "labelExpr": "datum.value == 24 ? '00' : (datum.value < 10 ? '0' : '') + datum.value",
        "labelFontSize": 19,
        "labelColor": "black",
        "labelPadding": 4,
        "labelFlush": false,
        "labelOverlap": false,
        "ticks": false,
        "domain": false,
        "grid": true,
        "gridColor": "black",
        "gridOpacity": 1,
        "gridDash": [1, 3],
        "gridWidth": 1
      }
    },
    "y": {
      "field": "temp",
      "type": "quantitative",
      "scale": {"domain": [2.35, 16.18], "nice": false, "zero": false},
      "axis": {
        "title": "Temperature (°C)",
        "titleFontSize": 19,
        "titleFontWeight": "normal",
        "titleColor": "black",
        "titlePadding": 9,
        "values": [4, 6, 8, 10, 12, 14, 16],
        "labelFontSize": 19,
        "labelColor": "black",
        "labelPadding": 5,
        "ticks": false,
        "domain": false,
        "grid": true,
        "gridColor": "black",
        "gridOpacity": 1,
        "gridDash": [1, 3],
        "gridWidth": 1
      }
    },
    "color": {
      "field": "sensor",
      "type": "nominal",
      "scale": {"domain": ["HygroVUE5", "Vaisala HMP35D"], "range": ["#ff0000", "#000000"]},
      "legend": {
        "title": null,
        "orient": "none",
        "legendX": 46,
        "legendY": -48,
        "direction": "horizontal",
        "columns": 2,
        "labelExpr": "datum.label == 'HygroVUE5' ? 'HygroVUE5 (9.1 °C)' : 'Vaisala HMP35D (9.31 °C)'",
        "labelFontSize": 19,
        "labelColor": "black",
        "labelLimit": 0,
        "labelOffset": 28,
        "columnPadding": 38,
        "symbolType": "M-1,0H2",
        "symbolSize": 784,
        "symbolStrokeWidth": 3,
        "strokeColor": "black",
        "fillColor": "white",
        "padding": 5,
        "cornerRadius": 0
      }
    }
  }
}
